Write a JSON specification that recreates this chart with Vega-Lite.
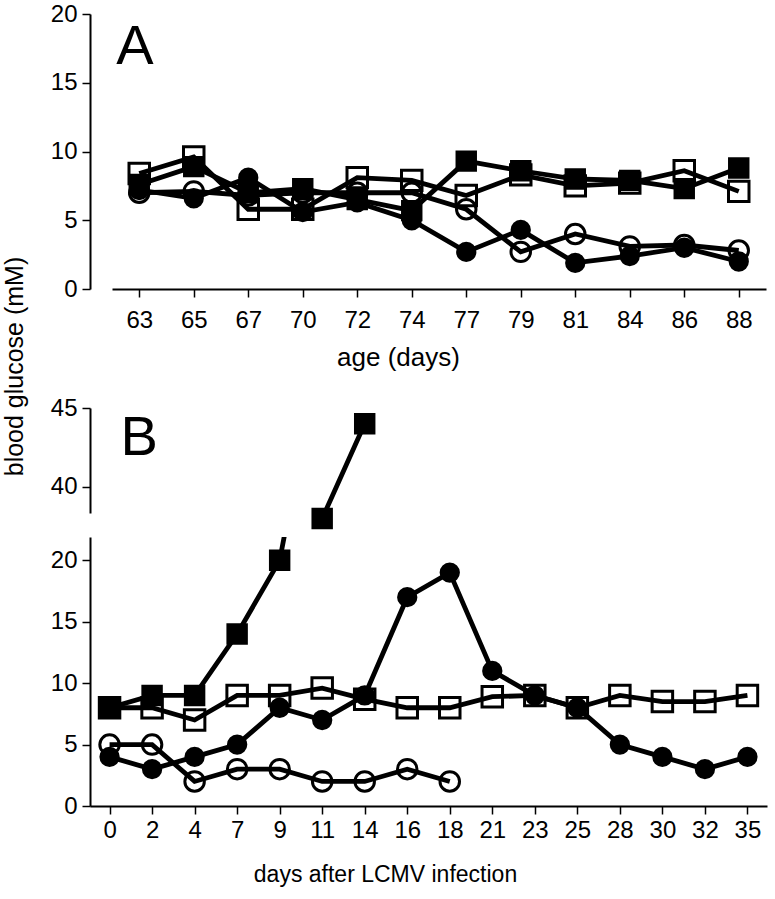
{
  "$schema": "https://vega.github.io/schema/vega-lite/v6.json",
  "padding": {"left": 2, "top": 2, "right": 5, "bottom": 5},
  "background": "white",
  "config": {
    "font": "Liberation Sans",
    "view": {"stroke": null},
    "axis": {
      "labelFontSize": 24, "titleFontSize": 22, "labelColor": "black", "titleColor": "black",
      "titleFontWeight": "normal", "domainColor": "black", "tickColor": "black",
      "domainWidth": 2, "tickWidth": 1.5, "tickSize": 8, "grid": false, "labelPadding": 5,
      "labelFont": "Liberation Sans", "titleFont": "Liberation Sans"
    }
  },
  "datasets": {
    "a": [
      {"series": "open square", "age": 63, "glucose": 8.4}, {"series": "open square", "age": 65, "glucose": 9.6}, {"series": "open square", "age": 67, "glucose": 5.8}, {"series": "open square", "age": 70, "glucose": 5.8}, {"series": "open square", "age": 72, "glucose": 8.1}, {"series": "open square", "age": 74, "glucose": 7.9}, {"series": "open square", "age": 77, "glucose": 6.8}, {"series": "open square", "age": 79, "glucose": 8.3}, {"series": "open square", "age": 81, "glucose": 7.5}, {"series": "open square", "age": 84, "glucose": 7.7}, {"series": "open square", "age": 86, "glucose": 8.6}, {"series": "open square", "age": 88, "glucose": 7.1},
      {"series": "open circle", "age": 63, "glucose": 7.0}, {"series": "open circle", "age": 65, "glucose": 7.1}, {"series": "open circle", "age": 67, "glucose": 6.8}, {"series": "open circle", "age": 70, "glucose": 7.0}, {"series": "open circle", "age": 72, "glucose": 7.0}, {"series": "open circle", "age": 74, "glucose": 7.0}, {"series": "open circle", "age": 77, "glucose": 5.8}, {"series": "open circle", "age": 79, "glucose": 2.7}, {"series": "open circle", "age": 81, "glucose": 4.0}, {"series": "open circle", "age": 84, "glucose": 3.1}, {"series": "open circle", "age": 86, "glucose": 3.2}, {"series": "open circle", "age": 88, "glucose": 2.8},
      {"series": "filled square", "age": 63, "glucose": 7.6}, {"series": "filled square", "age": 65, "glucose": 8.9}, {"series": "filled square", "age": 67, "glucose": 7.0}, {"series": "filled square", "age": 70, "glucose": 7.3}, {"series": "filled square", "age": 72, "glucose": 6.5}, {"series": "filled square", "age": 74, "glucose": 5.7}, {"series": "filled square", "age": 77, "glucose": 9.3}, {"series": "filled square", "age": 79, "glucose": 8.6}, {"series": "filled square", "age": 81, "glucose": 8.0}, {"series": "filled square", "age": 84, "glucose": 7.9}, {"series": "filled square", "age": 86, "glucose": 7.3}, {"series": "filled square", "age": 88, "glucose": 8.8},
      {"series": "filled circle", "age": 63, "glucose": 7.2}, {"series": "filled circle", "age": 65, "glucose": 6.6}, {"series": "filled circle", "age": 67, "glucose": 8.1}, {"series": "filled circle", "age": 70, "glucose": 5.6}, {"series": "filled circle", "age": 72, "glucose": 6.3}, {"series": "filled circle", "age": 74, "glucose": 5.0}, {"series": "filled circle", "age": 77, "glucose": 2.7}, {"series": "filled circle", "age": 79, "glucose": 4.3}, {"series": "filled circle", "age": 81, "glucose": 1.9}, {"series": "filled circle", "age": 84, "glucose": 2.4}, {"series": "filled circle", "age": 86, "glucose": 3.0}, {"series": "filled circle", "age": 88, "glucose": 2.0}
    ],
    "b": [
      {"series": "open square", "day": 0, "glucose": 8}, {"series": "open square", "day": 2, "glucose": 8}, {"series": "open square", "day": 4, "glucose": 7}, {"series": "open square", "day": 7, "glucose": 9}, {"series": "open square", "day": 9, "glucose": 9}, {"series": "open square", "day": 11, "glucose": 9.6}, {"series": "open square", "day": 14, "glucose": 8.7}, {"series": "open square", "day": 16, "glucose": 8}, {"series": "open square", "day": 18, "glucose": 8}, {"series": "open square", "day": 21, "glucose": 8.9}, {"series": "open square", "day": 23, "glucose": 9}, {"series": "open square", "day": 25, "glucose": 8}, {"series": "open square", "day": 28, "glucose": 9}, {"series": "open square", "day": 30, "glucose": 8.5}, {"series": "open square", "day": 32, "glucose": 8.5}, {"series": "open square", "day": 35, "glucose": 9},
      {"series": "open circle", "day": 0, "glucose": 5}, {"series": "open circle", "day": 2, "glucose": 5}, {"series": "open circle", "day": 4, "glucose": 2}, {"series": "open circle", "day": 7, "glucose": 3}, {"series": "open circle", "day": 9, "glucose": 3}, {"series": "open circle", "day": 11, "glucose": 2}, {"series": "open circle", "day": 14, "glucose": 2}, {"series": "open circle", "day": 16, "glucose": 3}, {"series": "open circle", "day": 18, "glucose": 2},
      {"series": "filled square", "day": 0, "glucose": 8}, {"series": "filled square", "day": 2, "glucose": 9}, {"series": "filled square", "day": 4, "glucose": 9}, {"series": "filled square", "day": 7, "glucose": 14}, {"series": "filled square", "day": 9, "glucose": 20}, {"series": "filled square", "day": 11, "glucose": 38}, {"series": "filled square", "day": 14, "glucose": 44},
      {"series": "filled circle", "day": 0, "glucose": 4}, {"series": "filled circle", "day": 2, "glucose": 3}, {"series": "filled circle", "day": 4, "glucose": 4}, {"series": "filled circle", "day": 7, "glucose": 5}, {"series": "filled circle", "day": 9, "glucose": 8}, {"series": "filled circle", "day": 11, "glucose": 7}, {"series": "filled circle", "day": 14, "glucose": 9}, {"series": "filled circle", "day": 16, "glucose": 17}, {"series": "filled circle", "day": 18, "glucose": 19}, {"series": "filled circle", "day": 21, "glucose": 11}, {"series": "filled circle", "day": 23, "glucose": 9}, {"series": "filled circle", "day": 25, "glucose": 8}, {"series": "filled circle", "day": 28, "glucose": 5}, {"series": "filled circle", "day": 30, "glucose": 4}, {"series": "filled circle", "day": 32, "glucose": 3}, {"series": "filled circle", "day": 35, "glucose": 4}
    ],
    "labels": [{"panel": "A", "age": 63, "glucose": 16.4}, {"panel": "B", "day": 0, "glucose": 42.0}]
  },
  "bounds": "flush",
  "spacing": 119,
  "resolve": {"scale": {"x": "independent", "y": "independent"}},
  "vconcat": [
    {
      "width": 677, "height": 275,
      "layer": [
        {"data": {"name": "a"},
         "mark": {"type": "line", "color": "black", "strokeWidth": 4.8},
         "encoding": {
           "x": {"field": "age", "type": "ordinal", "scale": {"domain": [63, 65, 67, 70, 72, 74, 77, 79, 81, 84, 86, 88], "range": [22, 676], "padding": 0.5},
                 "axis": {"title": "age (days)", "titleFontSize": 26, "labelAngle": 0, "labelPadding": 11, "titlePadding": 12, "titleX": 308, "titleAlign": "center"}},
           "y": {"field": "glucose", "type": "quantitative", "scale": {"domain": [0, 20], "nice": false},
                 "axis": {"values": [0, 5, 10, 15, 20], "title": "blood glucose (mM)", "titleFontSize": 25, "titleX": -76, "titleY": 352, "titleAngle": 270, "titleAlign": "center", "titleBaseline": "middle"}},
           "detail": {"field": "series"}
         }},
        {"data": {"name": "a"},
         "mark": {"type": "point", "filled": true, "stroke": "black", "strokeWidth": 3, "opacity": 1},
         "encoding": {
           "x": {"field": "age", "type": "ordinal"},
           "y": {"field": "glucose", "type": "quantitative"},
           "shape": {"field": "series", "scale": {"domain": ["open square", "open circle", "filled square", "filled circle"], "range": ["square", "circle", "square", "circle"]}, "legend": null},
           "fill": {"field": "series", "scale": {"domain": ["open square", "open circle", "filled square", "filled circle"], "range": ["transparent", "transparent", "black", "black"]}, "legend": null},
           "size": {"field": "series", "scale": {"domain": ["open square", "open circle", "filled square", "filled circle"], "range": [420, 300, 300, 185]}, "legend": null}
         }},
        {"data": {"name": "labels"},
         "transform": [{"filter": "datum.panel == 'A'"}],
         "mark": {"type": "text", "fontSize": 56, "font": "Liberation Sans", "align": "left", "baseline": "alphabetic", "dx": -23, "color": "black"},
         "encoding": {"text": {"field": "panel"}, "x": {"field": "age", "type": "ordinal"}, "y": {"field": "glucose", "type": "quantitative"}}}
      ]
    },
    {
      "bounds": "flush",
      "spacing": 24,
      "resolve": {"scale": {"x": "independent", "y": "independent"}},
      "vconcat": [
        {
          "width": 677, "height": 105,
          "layer": [
            {"data": {"name": "b"},
             "mark": {"type": "line", "color": "black", "strokeWidth": 4.8, "clip": true},
             "encoding": {
               "x": {"field": "day", "type": "ordinal", "scale": {"domain": [0, 2, 4, 7, 9, 11, 14, 16, 18, 21, 23, 25, 28, 30, 32, 35], "padding": 0.46}, "axis": null},
               "y": {"field": "glucose", "type": "quantitative", "scale": {"domain": [38.35, 45], "nice": false, "zero": false},
                     "axis": {"values": [40, 45], "title": null}},
               "detail": {"field": "series"}
             }},
            {"data": {"name": "b"},
             "transform": [{"filter": "datum.glucose > 30"}],
             "mark": {"type": "point", "filled": true, "stroke": "black", "strokeWidth": 3, "opacity": 1},
             "encoding": {
               "x": {"field": "day", "type": "ordinal"},
               "y": {"field": "glucose", "type": "quantitative"},
               "shape": {"field": "series", "scale": {"domain": ["open square", "open circle", "filled square", "filled circle"], "range": ["square", "circle", "square", "circle"]}, "legend": null},
               "fill": {"field": "series", "scale": {"domain": ["open square", "open circle", "filled square", "filled circle"], "range": ["transparent", "transparent", "black", "black"]}, "legend": null},
               "size": {"field": "series", "scale": {"domain": ["open square", "open circle", "filled square", "filled circle"], "range": [420, 300, 300, 185]}, "legend": null}
             }},
            {"data": {"name": "labels"},
             "transform": [{"filter": "datum.panel == 'B'"}],
             "mark": {"type": "text", "fontSize": 56, "font": "Liberation Sans", "align": "left", "baseline": "alphabetic", "dx": 11, "color": "black"},
             "encoding": {"text": {"field": "panel"}, "x": {"field": "day", "type": "ordinal"}, "y": {"field": "glucose", "type": "quantitative"}}}
          ]
        },
        {
          "width": 677, "height": 269,
          "layer": [
            {"data": {"name": "b"},
             "mark": {"type": "line", "color": "black", "strokeWidth": 4.8, "clip": true},
             "encoding": {
               "x": {"field": "day", "type": "ordinal", "scale": {"domain": [0, 2, 4, 7, 9, 11, 14, 16, 18, 21, 23, 25, 28, 30, 32, 35], "padding": 0.46},
                     "axis": {"title": "days after LCMV infection", "titleFontSize": 23, "labelAngle": 0, "labelPadding": 4, "titlePadding": 21, "titleX": 295, "titleAlign": "center"}},
               "y": {"field": "glucose", "type": "quantitative", "scale": {"domain": [0, 21.9], "nice": false},
                     "axis": {"values": [0, 5, 10, 15, 20], "title": null}},
               "detail": {"field": "series"}
             }},
            {"data": {"name": "b"},
             "transform": [{"filter": "datum.glucose < 30"}],
             "mark": {"type": "point", "filled": true, "stroke": "black", "strokeWidth": 3, "opacity": 1},
             "encoding": {
               "x": {"field": "day", "type": "ordinal"},
               "y": {"field": "glucose", "type": "quantitative"},
               "shape": {"field": "series", "scale": {"domain": ["open square", "open circle", "filled square", "filled circle"], "range": ["square", "circle", "square", "circle"]}, "legend": null},
               "fill": {"field": "series", "scale": {"domain": ["open square", "open circle", "filled square", "filled circle"], "range": ["transparent", "transparent", "black", "black"]}, "legend": null},
               "size": {"field": "series", "scale": {"domain": ["open square", "open circle", "filled square", "filled circle"], "range": [420, 300, 300, 185]}, "legend": null}
             }}
          ]
        }
      ]
    }
  ]
}
